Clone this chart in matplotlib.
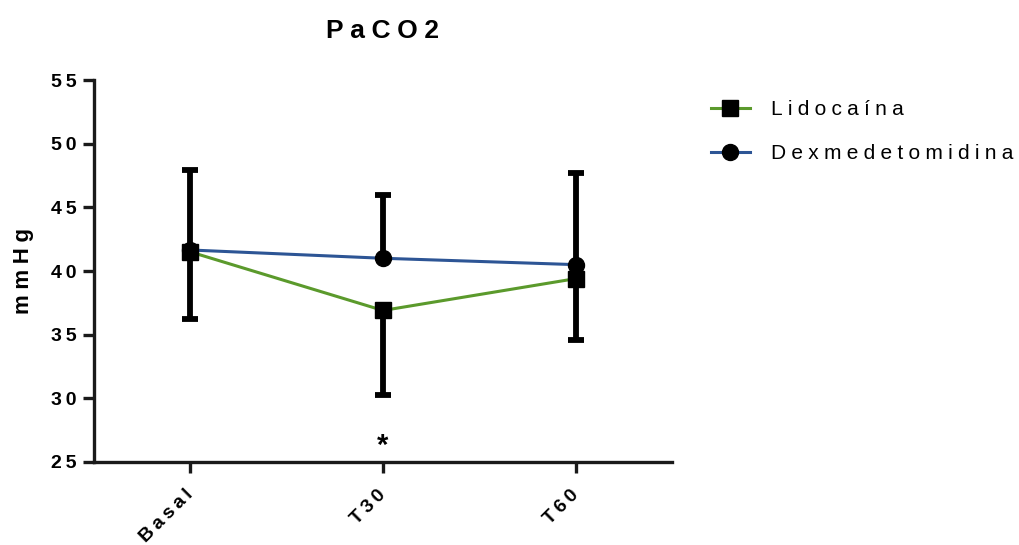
import numpy as np
import matplotlib
matplotlib.use('Agg')
import matplotlib.pyplot as plt
import matplotlib.transforms as mtransforms

plt.rcParams['font.family'] = ['Liberation Sans', 'DejaVu Sans']

# data
tiempos = ['Basal', 'T30', 'T60']
lido_media = [41.5, 36.9, 39.4]
lido_err_abajo = [5.3, 6.6, 4.8]
dex_media = [41.65, 41.0, 40.5]
dex_err_arriba = [6.25, 5.0, 7.2]


def espaciar(texto, sep='\u2009'):
    # Prism-style letter spacing
    return sep.join(texto)


x = np.arange(len(tiempos))
lido_media = np.array(lido_media)
dex_media = np.array(dex_media)

fig = plt.figure(figsize=(10.19, 5.45), dpi=100)
ax = fig.add_axes([0.0922, 0.1523, 0.5673, 0.7009])

# one-sided error bars: Lidocaína down, Dexmedetomidina up
lido_bajo = lido_media - np.array(lido_err_abajo)
dex_alto = dex_media + np.array(dex_err_arriba)
ax.vlines(x, lido_bajo, lido_media, color='black', lw=4.2, zorder=2)
ax.vlines(x, dex_media, dex_alto, color='black', lw=4.2, zorder=2)
ax.plot(x, lido_bajo, ls='none', marker='_', ms=12, mew=4.2, color='black', zorder=2)
ax.plot(x, dex_alto, ls='none', marker='_', ms=12, mew=4.2, color='black', zorder=2)

ax.plot(x, lido_media, color='#5b9a2c', lw=2.2, marker='s', ms=11.5,
        mfc='black', mec='black', label=espaciar('Lidocaína', '\u2005'), zorder=3)
ax.plot(x, dex_media, color='#2d5595', lw=2.2, marker='o', ms=11.5,
        mfc='black', mec='black', label=espaciar('Dexmedetomidina', '\u2005'), zorder=4)

ax.set_xlim(-0.5, 2.5)
ax.set_ylim(25, 55)
yt = np.arange(25, 56, 5)
ax.set_yticks(yt)
ax.set_yticklabels([espaciar(str(v)) for v in yt], fontsize=14, fontweight='bold')
ax.set_xticks(x)
ax.set_xticklabels([espaciar(t) for t in tiempos], rotation=45, ha='right', va='center',
                   rotation_mode='anchor', fontsize=14, fontweight='bold')
desplaza = mtransforms.ScaledTranslation(-4 / 100, 0, fig.dpi_scale_trans)
for lab in ax.get_xticklabels():
    lab.set_transform(lab.get_transform() + desplaza)

for s in ['top', 'right']:
    ax.spines[s].set_visible(False)
for s in ['left', 'bottom']:
    ax.spines[s].set_linewidth(2.4)
    ax.spines[s].set_color('#1a1a1a')
ax.tick_params(axis='both', width=2.4, length=8, color='#1a1a1a', pad=4.5)
ax.tick_params(axis='x', pad=14)

ax.set_ylabel(espaciar('mmHg', '\u2005'), fontsize=16, fontweight='bold', labelpad=12)
ax.set_title(espaciar('PaCO2', '\u2005'), fontsize=19, fontweight='bold', pad=30)

ax.text(1, 26.3, '*', ha='center', va='center', fontsize=21, fontweight='bold')

ax.legend(loc='upper left', bbox_to_anchor=(0.679, 0.851),
          bbox_transform=fig.transFigure, frameon=False, fontsize=15,
          handlelength=1.9, labelspacing=1.2, handletextpad=1.0)

plt.savefig('out.png', dpi=100)
plt.close()
